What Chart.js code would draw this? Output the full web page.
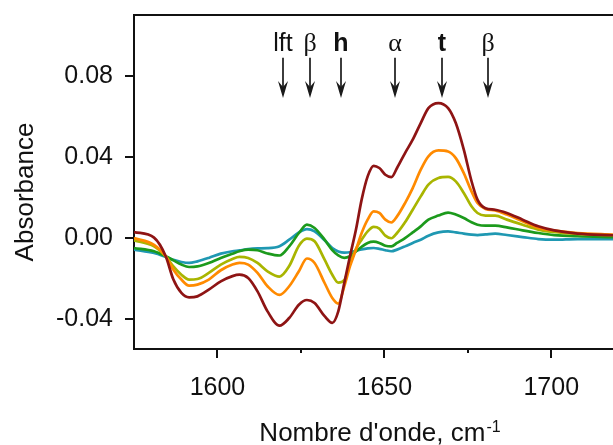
<!DOCTYPE html>
<html>
<head>
<meta charset="utf-8">
<script src="https://cdn.jsdelivr.net/npm/chart.js@4/dist/chart.umd.min.js"></script>
<style>
html,body{margin:0;padding:0;background:#fff;}
#wrap{width:613px;height:445px;position:relative;}
</style>
</head>
<body>
<div id="wrap"><canvas id="c" width="613" height="445"></canvas></div>
<script>
// Wavenumbers (cm-1)
const waves = [1575,1581,1584.5,1586.8,1589.2,1591.5,1594,1597.4,1601,1604.5,1606.6,1609.2,1612,1615,1618.6,1621.5,1624.4,1626.8,1629.1,1632.1,1634.4,1636.2,1638,1639.7,1641.5,1643.2,1645,1646.8,1648.5,1650.3,1652.1,1653.8,1656.2,1658.5,1660.9,1663.2,1666.2,1669.1,1671.4,1673.8,1676.1,1677.9,1680.3,1683.2,1686.7,1691.4,1696.1,1700.9,1707.9,1718.5];

const darkRed = [0.0028,0.0,-0.0092,-0.0207,-0.0273,-0.0295,-0.029,-0.0257,-0.0216,-0.019,-0.0183,-0.0199,-0.0265,-0.0364,-0.0435,-0.0397,-0.0331,-0.0308,-0.0323,-0.0388,-0.0421,-0.0364,-0.0224,-0.0092,0.004,0.0188,0.0303,0.0355,0.0344,0.0311,0.0299,0.0344,0.0418,0.0484,0.0566,0.064,0.0665,0.064,0.0566,0.0435,0.028,0.0188,0.0145,0.0138,0.0122,0.0089,0.0056,0.0036,0.002,0.0012];

const orange = [-0.0002,-0.0035,-0.0092,-0.0158,-0.0207,-0.0237,-0.0232,-0.0207,-0.0161,-0.0133,-0.0125,-0.0133,-0.0174,-0.024,-0.0283,-0.024,-0.0166,-0.0103,-0.0125,-0.0224,-0.0298,-0.0326,-0.024,-0.0142,-0.0059,0.0023,0.0089,0.013,0.0122,0.0089,0.0075,0.0105,0.0171,0.0245,0.0336,0.0402,0.0431,0.0426,0.0393,0.0319,0.0229,0.0171,0.0142,0.0135,0.0114,0.0081,0.0048,0.0035,0.0023,0.0015];

const yellowGreen = [-0.0013,-0.0043,-0.0092,-0.0142,-0.0183,-0.0207,-0.0204,-0.0174,-0.0133,-0.0105,-0.0095,-0.01,-0.0125,-0.0166,-0.0192,-0.014,-0.0040,-0.0005,-0.0018,-0.0109,-0.0183,-0.0222,-0.021,-0.013,-0.0055,-0.001,0.0031,0.0053,0.0045,0.001,-0.0003,0.0023,0.0076,0.0138,0.0204,0.0262,0.0295,0.03,0.0278,0.0221,0.0155,0.0122,0.0109,0.0109,0.0089,0.0064,0.004,0.0028,0.0018,0.0012];

const green = [-0.0051,-0.0067,-0.0092,-0.0112,-0.0133,-0.0145,-0.0142,-0.0125,-0.01,-0.0079,-0.0067,-0.0059,-0.0062,-0.0078,-0.0088,-0.0043,0.0023,0.0064,0.0048,-0.001,-0.0062,-0.0088,-0.01,-0.0092,-0.0068,-0.0045,-0.0026,-0.002,-0.0026,-0.004,-0.0043,-0.0026,-0.0002,0.0026,0.0056,0.0089,0.0109,0.0124,0.0114,0.0097,0.0076,0.0064,0.0059,0.0059,0.0051,0.0036,0.0023,0.0013,0.0007,0.0003];

const teal = [-0.0059,-0.0076,-0.0095,-0.0109,-0.012,-0.0125,-0.0117,-0.01,-0.0079,-0.0067,-0.0063,-0.0056,-0.0053,-0.0052,-0.0042,-0.001,0.0026,0.0042,0.0031,-0.0013,-0.0051,-0.0068,-0.0074,-0.0072,-0.0065,-0.0058,-0.0053,-0.0051,-0.0055,-0.0062,-0.0067,-0.0059,-0.0043,-0.0026,-0.001,0.001,0.0026,0.0031,0.0026,0.002,0.0015,0.0013,0.0016,0.002,0.0013,0.0003,-0.0007,-0.001,-0.0007,-0.0007];

const xTicks = [1600, 1650, 1700];
const xMinorTicks = [1625, 1675];
const yTicks = [-0.04, 0.0, 0.04, 0.08];

// Band assignment annotations
const bandLabels = ['lft', 'β', 'h', 'α', 't', 'β'];
const bandPositions = [1619.5, 1627.6, 1637.0, 1653.2, 1667.2, 1681.0];
const bandBold = [false, false, true, false, true, false];
const bandGreek = [false, true, false, true, false, true];
const labelY = 0.0920;
const arrowTopY = 0.0889;
const arrowTipY = 0.0690;

const seriesList = [
  {name: 'darkRed', data: darkRed, color: '#8e1414'},
  {name: 'orange', data: orange, color: '#ff8a00'},
  {name: 'yellowGreen', data: yellowGreen, color: '#a9b500'},
  {name: 'green', data: green, color: '#1c9a1c'},
  {name: 'teal', data: teal, color: '#1f98b2'}
];

const SANS = "'Liberation Sans', Arial, sans-serif";
const SERIF = "'Liberation Serif', 'Times New Roman', serif";

const decorPlugin = {
  id: 'decor',
  afterDraw(chart) {
    const ctx = chart.ctx;
    const xs = chart.scales.x, ys = chart.scales.y;
    const ca = chart.chartArea;
    ctx.save();
    // top frame line
    ctx.strokeStyle = '#111';
    ctx.lineWidth = 2;
    ctx.beginPath();
    ctx.moveTo(ca.left - 1, ca.top);
    ctx.lineTo(ca.right, ca.top);
    ctx.stroke();
    // minor x ticks
    xMinorTicks.forEach(v => {
      const px = Math.round(xs.getPixelForValue(v));
      ctx.beginPath();
      ctx.moveTo(px, ca.bottom);
      ctx.lineTo(px, ca.bottom + 4);
      ctx.stroke();
    });
    // band arrows & labels
    bandPositions.forEach((w, i) => {
      const px = Math.round(xs.getPixelForValue(w));
      const yT = ys.getPixelForValue(arrowTopY);
      const yB = ys.getPixelForValue(arrowTipY);
      const yL = ys.getPixelForValue(labelY);
      ctx.strokeStyle = '#1a1a1a';
      ctx.lineWidth = 1.7;
      ctx.beginPath();
      ctx.moveTo(px, yT);
      ctx.lineTo(px, yB - 6);
      ctx.stroke();
      ctx.beginPath();
      ctx.moveTo(px, yB);
      ctx.lineTo(px - 5, yB - 17);
      ctx.lineTo(px, yB - 11);
      ctx.lineTo(px + 5, yB - 17);
      ctx.closePath();
      ctx.fillStyle = '#1a1a1a';
      ctx.fill();
      ctx.fillStyle = '#111';
      ctx.textAlign = 'center';
      ctx.textBaseline = 'alphabetic';
      if (bandGreek[i]) ctx.font = '26px ' + SERIF;
      else ctx.font = (bandBold[i] ? 'bold ' : '') + '25px ' + SANS;
      ctx.fillText(bandLabels[i], px, yL);
    });
    // y title
    ctx.save();
    ctx.translate(33, 192);
    ctx.rotate(-Math.PI / 2);
    ctx.font = '26px ' + SANS;
    ctx.textAlign = 'center';
    ctx.textBaseline = 'alphabetic';
    ctx.fillStyle = '#111';
    ctx.fillText('Absorbance', 0, 0);
    ctx.restore();
    // x title with superscript
    const main = "Nombre d'onde, cm";
    const sup = '-1';
    ctx.font = '26px ' + SANS;
    const wMain = ctx.measureText(main).width;
    ctx.font = '16px ' + SANS;
    const wSup = ctx.measureText(sup).width;
    const startX = 380 - (wMain + wSup + 1) / 2;
    ctx.textAlign = 'left';
    ctx.textBaseline = 'alphabetic';
    ctx.fillStyle = '#111';
    ctx.font = '26px ' + SANS;
    ctx.fillText(main, startX, 441);
    ctx.font = '16px ' + SANS;
    ctx.fillText(sup, startX + wMain + 1, 432);
    ctx.restore();
  }
};

new Chart(document.getElementById('c'), {
  type: 'line',
  data: {
    datasets: seriesList.map(s => ({
      label: s.name,
      data: waves.map((w, i) => ({x: w, y: s.data[i]})),
      borderColor: s.color,
      backgroundColor: s.color,
      borderWidth: 2.7,
      pointRadius: 0,
      fill: false,
      cubicInterpolationMode: 'monotone'
    }))
  },
  options: {
    responsive: false,
    animation: false,
    devicePixelRatio: 1,
    layout: {padding: {top: 15, left: 0, right: 0, bottom: 0}},
    plugins: {legend: {display: false}, tooltip: {enabled: false}},
    scales: {
      x: {
        type: 'linear',
        min: 1575,
        max: 1718.5,
        afterBuildTicks: s => { s.ticks = xTicks.map(v => ({value: v})); },
        afterFit: s => { s.height = 96; s.paddingLeft = 0; s.paddingRight = 0; },
        grid: {drawOnChartArea: false, drawTicks: true, tickLength: 9, color: '#111', lineWidth: 2},
        border: {display: true, color: '#111', width: 2},
        ticks: {
          color: '#111',
          font: {family: SANS, size: 25},
          padding: 15,
          maxRotation: 0,
          autoSkip: false,
          callback: v => String(v)
        },
        title: {display: false}
      },
      y: {
        type: 'linear',
        min: -0.055,
        max: 0.110,
        afterBuildTicks: s => { s.ticks = yTicks.map(v => ({value: v})); },
        afterFit: s => { s.width = 134; s.paddingTop = 0; s.paddingBottom = 0; },
        grid: {drawOnChartArea: false, drawTicks: true, tickLength: 9, color: '#111', lineWidth: 2},
        border: {display: true, color: '#111', width: 2},
        ticks: {
          color: '#111',
          font: {family: SANS, size: 25},
          padding: 12,
          autoSkip: false,
          callback: v => Number(v).toFixed(2)
        },
        title: {display: false}
      }
    }
  },
  plugins: [decorPlugin]
});
</script>
</body>
</html>
